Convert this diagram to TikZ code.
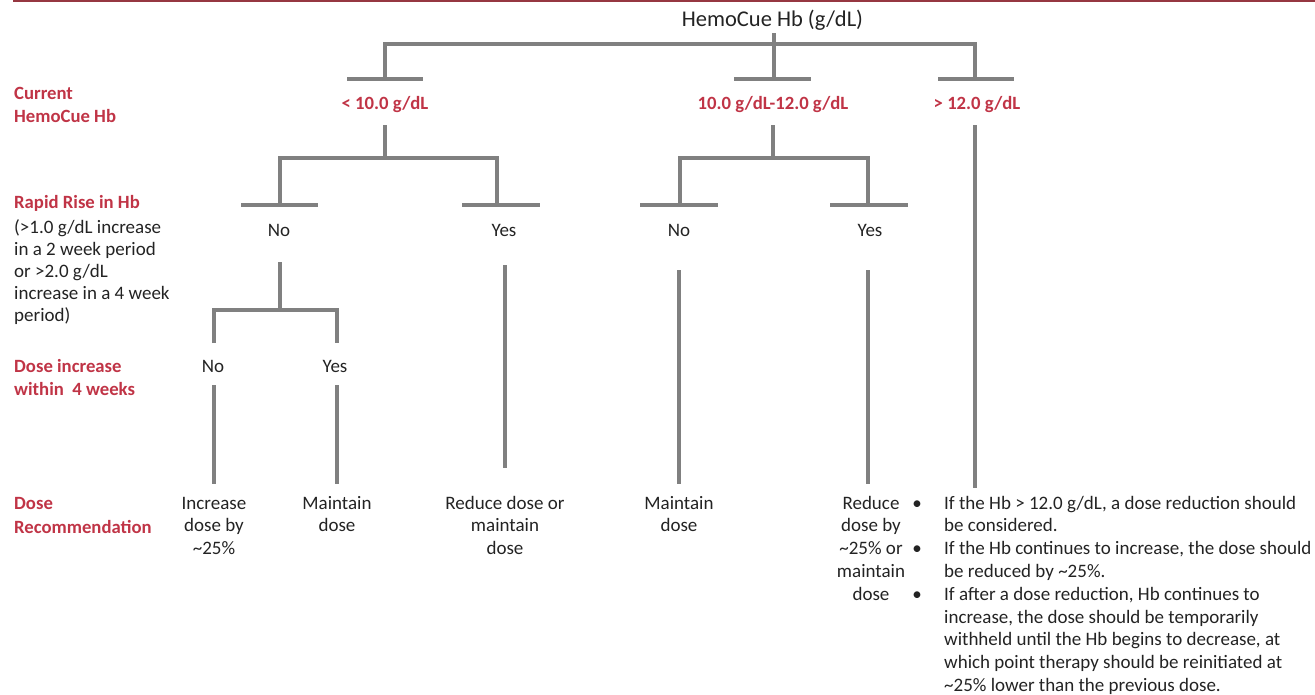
\documentclass[tikz,border=0pt]{standalone}
\usepackage{fontspec}
\setmainfont{Carlito}
\definecolor{labred}{RGB}{192,52,70}
\definecolor{lngray}{RGB}{128,128,128}
\definecolor{txt}{RGB}{35,35,35}
\definecolor{bord}{RGB}{150,55,65}
\begin{document}
\begin{tikzpicture}[x=1pt,y=-1pt,
  br/.style={draw=lngray, line width=3.6pt},
  redlab/.style={text=labred, font=\fontsize{18.7}{22.5}\selectfont\bfseries, inner sep=0pt},
  sidelab/.style={redlab, anchor=north west, align=left},
  toplab/.style={redlab, anchor=base},
  plain/.style={text=txt, font=\fontsize{19}{22.8}\selectfont, inner sep=0pt},
  side/.style={plain, anchor=north west, align=left},
  yn/.style={plain, anchor=base},
  rec/.style={plain, anchor=north, align=center},
  bul/.style={plain, anchor=base}
]
\useasboundingbox (0,0) rectangle (1315,694);
% top border
\draw[bord, line width=1.6pt] (14,-10) -- (14,1) -- (1330,1);

% title
\node[plain, anchor=base, font=\fontsize{22.5}{26}\selectfont] (title) at (772.5,26) {HemoCue Hb (g/dL)};

% side labels
\node[sidelab] (s1) at (14,83.8) {\strut Current\\HemoCue Hb};
\node[sidelab] (s2) at (14,192.8) {\strut Rapid Rise in Hb};
\node[side, font=\fontsize{19}{22}\selectfont] (s2b) at (14,218.1) {\strut (>1.0 g/dL increase\\in a 2 week period\\or >2.0 g/dL\\increase in a 4 week\\period)};
\node[sidelab, font=\fontsize{18.7}{23}\selectfont\bfseries] (s3) at (14,356.4) {\strut Dose increase\\within\ \ 4 weeks};
\node[sidelab, font=\fontsize{18.7}{24}\selectfont\bfseries] (s4) at (14,492.7) {\strut Dose\\Recommendation};

% level 1
\coordinate (t0) at (774,33);
\coordinate (tm) at (774,44);
\coordinate (tl) at (385,44);
\coordinate (tr) at (975,44);
\coordinate (bl) at (385,79);
\coordinate (bm) at (774,79);
\coordinate (brr) at (975,79);
\draw[br] (t0) -- (bm);
\draw[br] (bl) -- (tl) -- (tr) -- (brr);
\draw[br] (347,79) -- (423,79);
\draw[br] (734,79) -- (811,79);
\draw[br] (938,79) -- (1014,79);

\node[toplab] (g1) at (385,109.5) {< 10.0 g/dL};
\node[toplab] (g2) at (773,109.5) {10.0 g/dL-12.0 g/dL};
\node[toplab] (g3) at (977,109.5) {> 12.0 g/dL};

% level 2 left
\coordinate (g1s) at (385,125);
\coordinate (g1h) at (385,158);
\draw[br] (g1s) -- (g1h);
\draw[br] (280,205) -- (280,158) -- (497,158) -- (497,205);
\draw[br] (241,205) -- (318,205);
\draw[br] (462,205) -- (540,205);
% level 2 middle
\coordinate (g2s) at (773,125);
\coordinate (g2h) at (773,158);
\draw[br] (g2s) -- (g2h);
\draw[br] (680,205) -- (680,158) -- (868,158) -- (868,205);
\draw[br] (640,205) -- (718,205);
\draw[br] (830,205) -- (908,205);
% right long line
\coordinate (g3s) at (975,125);
\coordinate (g3e) at (975,488);
\draw[br] (g3s) -- (g3e);

\node[yn] (n1) at (279,236.5) {No};
\node[yn] (y1) at (504,236.5) {Yes};
\node[yn] (n2) at (679,236.5) {No};
\node[yn] (y2) at (870,236.5) {Yes};

% level 3 under left No
\draw[br] (280,262) -- (280,310);
\draw[br] (214,343) -- (214,310) -- (337,310) -- (337,343);
\node[yn] (n3) at (213,372.5) {No};
\node[yn] (y3) at (335,372.5) {Yes};
\draw[br] (214,385) -- (214,484);
\draw[br] (337,385) -- (337,484);
% other verticals
\draw[br] (505,265) -- (505,468);
\draw[br] (679,270) -- (679,484);
\draw[br] (868,270) -- (868,484);

% recommendations
\node[rec] (r1) at (214,493) {\strut Increase\\dose by\\\textasciitilde25\%};
\node[rec] (r2) at (337,493) {\strut Maintain\\dose};
\node[rec] (r3) at (505,493) {\strut Reduce dose or\\maintain\\dose};
\node[rec] (r4) at (679,493) {\strut Maintain\\dose};
\node[rec] (r5) at (871,493) {\strut Reduce\\dose by\\\textasciitilde25\% or\\maintain\\dose};

\node[bul] (b1) at (917,509) {•};
\node[bul] (b2) at (917,554.6) {•};
\node[bul] (b3) at (917,600.2) {•};
\node[plain, anchor=north west, align=left] (bt) at (944,493) {\strut If the Hb > 12.0 g/dL, a dose reduction should\\be considered.\\If the Hb continues to increase, the dose should\\be reduced by \textasciitilde25\%.\\If after a dose reduction, Hb continues to\\increase, the dose should be temporarily\\withheld until the Hb begins to decrease, at\\which point therapy should be reinitiated at\\\textasciitilde25\% lower than the previous dose.};
\end{tikzpicture}
\end{document}
